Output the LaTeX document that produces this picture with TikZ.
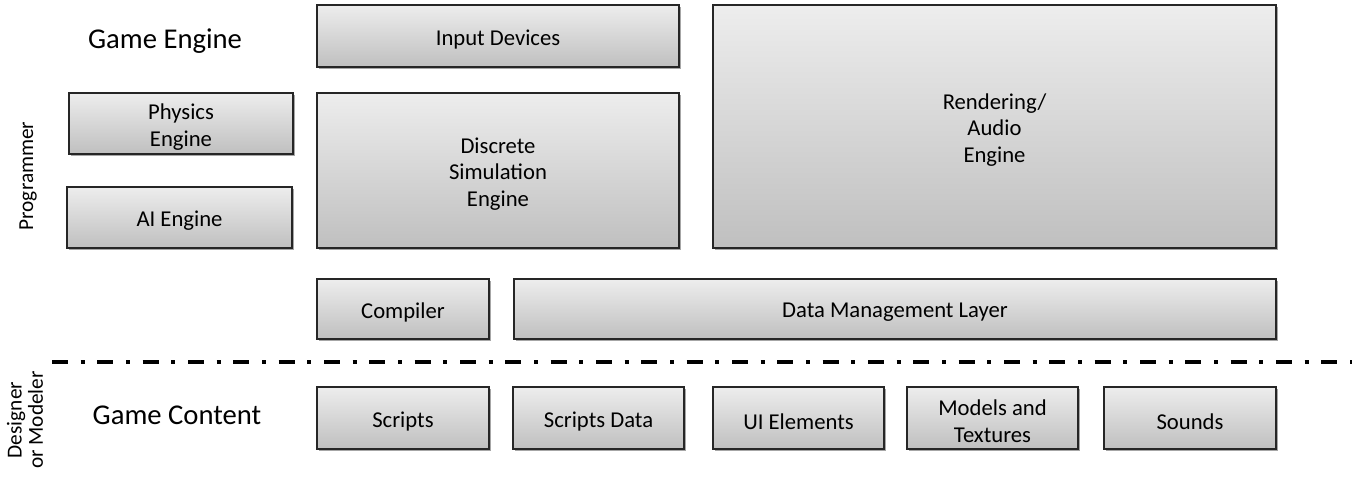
\documentclass[tikz,border=0pt]{standalone}
\usepackage{fontspec}
\setmainfont{Carlito}
\usetikzlibrary{shadows}
\begin{document}
\begin{tikzpicture}[x=0.75pt,y=-0.75pt,
  blk/.style={draw=black!85, line width=1pt, top color=black!7, bottom color=black!25,
    drop shadow={shadow xshift=1.5pt, shadow yshift=-1.5pt, opacity=0.35, fill=black},
    inner sep=0pt},
  blktext/.style={align=center, font=\fontsize{17}{20}\selectfont, inner sep=0pt, yshift=-2.5pt},
  title/.style={font=\fontsize{21.5}{25}\selectfont},
  role/.style={font=\fontsize{16}{16}\selectfont, rotate=90, align=center},
  sep/.style={line width=3pt, dash pattern=on 12pt off 9.5pt on 3pt off 9.5pt}]
\useasboundingbox (0,0) rectangle (1358,495);
\newcommand{\blkbox}[6]{\node[blk, minimum width=#3*0.75pt-#1*0.75pt, minimum height=#4*0.75pt-#2*0.75pt,
  label={[blktext]center:#6}] (#5) at ({(#1+#3)/2},{(#2+#4)/2}) {};}
\blkbox{317}{5}{679}{67}{input}{Input Devices}
\blkbox{713}{5}{1276}{248}{render}{Rendering/\\Audio\\Engine}
\blkbox{69}{93}{293}{154}{physics}{Physics\\Engine}
\blkbox{67}{187}{292}{248}{ai}{AI Engine}
\blkbox{317}{93}{679}{248}{sim}{Discrete\\Simulation\\Engine}
\blkbox{317}{279}{489}{339}{compiler}{Compiler}
\blkbox{514}{279}{1276}{339}{data}{Data Management Layer}
\blkbox{317}{387}{489}{449}{scripts}{Scripts}
\blkbox{513}{387}{684}{449}{sdata}{Scripts Data}
\blkbox{713}{387}{884}{449}{ui}{UI Elements}
\blkbox{907}{387}{1078}{449}{models}{Models and\\Textures}
\blkbox{1104}{387}{1276}{449}{sounds}{Sounds}
\node[title] (ge) at (165,41) {Game Engine};
\node[title] (gc) at (177,415) {Game Content};
\node[role] (prog) at (28,176) {Programmer};
\node[role] (des) at (25,420) {Designer\\or Modeler};
\coordinate (l1) at (52,362);
\coordinate (l2) at (1352,362);
\draw[sep] (l1) -- (l2);
\end{tikzpicture}
\end{document}
